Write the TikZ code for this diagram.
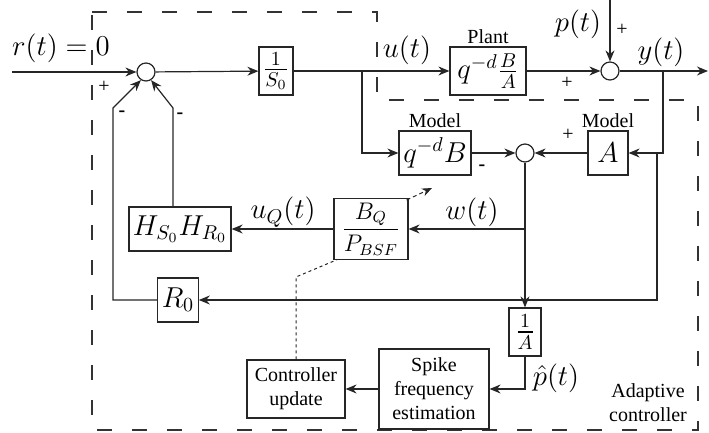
\documentclass[tikz,border=0pt]{standalone}
\usepackage[no-math]{fontspec}
\setmainfont{Liberation Serif}
\usepackage{amsmath}
\usetikzlibrary{arrows.meta,positioning,calc}
\tikzset{
  blk/.style={draw=black!85, line width=0.6pt, inner sep=2pt, font=\Large,
    minimum height=22pt, align=center},
  txtblk/.style={blk, font=\normalsize, inner sep=2pt},
  sumnode/.style={draw=black!85, line width=0.6pt, circle, minimum size=9pt, inner sep=0pt},
  sig/.style={-{Stealth[length=5.5pt, width=4.5pt, inset=1.8pt]}, black!85, line width=0.6pt},
  wire/.style={black!85, line width=0.6pt},
  zone/.style={line width=0.8pt, black!80, dash pattern=on 7.5pt off 10pt},
  tune/.style={-{Stealth[length=5pt, width=4pt, inset=1.6pt]}, black!85, line width=0.5pt,
    dash pattern=on 2pt off 1.5pt},
  link/.style={black!85, line width=0.5pt, dash pattern=on 1.5pt off 1.5pt},
  mlbl/.style={font=\Large, inner sep=1pt},
  tag/.style={font=\normalsize, inner sep=1pt},
  sgn/.style={font=\normalsize, inner sep=0pt}
}
\begin{document}
\begin{tikzpicture}[x=0.5pt, y=-0.5pt]
  \useasboundingbox (0,0) rectangle (709,433);
  % adaptive controller border
  \draw[zone] (92,12) -- (377,12) -- (377,100) -- (698,100) -- (698,430) -- (92,430) -- cycle;

  % main loop
  \node[sumnode] (sumA) at (146,72) {};
  \node[blk, minimum width=16pt, minimum height=24pt] (invS) at (276,71) {$\frac{1}{S_0}$};
  \node[blk, minimum width=38pt, minimum height=24pt] (plant) at (488,71) {$q^{-d}\frac{B}{A}$};
  \node[tag, above=0pt of plant] (plantlbl) {Plant};
  \node[sumnode] (sumY) at (610,71) {};

  % model and estimation
  \node[blk, minimum width=36pt] (modB) at (435,153) {$q^{-d}B$};
  \node[tag, above=0pt of modB] (modBlbl) {Model};
  \node[sumnode] (sumE) at (525,153) {};
  \node[blk, minimum width=20pt] (modA) at (608,153) {$A$};
  \node[tag, above=0pt of modA] (modAlbl) {Model};
  \node[blk, minimum width=37pt, minimum height=24pt, font=\large] (bq) at (371,229) {$\dfrac{B_Q}{P_{BSF}}$};
  \node[blk, minimum width=51pt] (hh) at (180,229) {$H_{S_0}H_{R_0}$};
  \node[blk, minimum width=20pt] (rz) at (178,300) {$R_0$};
  \node[blk, minimum width=16pt, minimum height=24pt] (invA) at (525,332) {$\frac{1}{A}$};
  \node[txtblk, minimum width=55pt, minimum height=40pt] (spike) at (434,389) {Spike\\frequency\\estimation};
  \node[txtblk, minimum width=49pt, minimum height=29pt] (upd) at (296,389) {Controller\\update};

  % branch and end points
  \coordinate (rin) at (12,72);
  \coordinate (yout) at (708,71);
  \coordinate (ptop) at (610,0);
  \coordinate (ubr) at (362,71);
  \coordinate (ybr) at (663,71);
  \coordinate (rbr) at (657,153);
  \coordinate (wbr) at (525,229);
  \coordinate (hk) at (173,108);
  \coordinate (rk) at (113,108);
  \coordinate (dk) at (296,277);
  \coordinate (tunetip) at (432,188);

  % signals
  \draw[sig] (rin) -- (sumA);
  \draw[sig] (sumA) -- (invS);
  \draw[sig] (invS) -- (plant);
  \draw[sig] (plant) -- (sumY);
  \draw[sig] (ptop) -- (sumY);
  \draw[sig] (sumY) -- (yout);
  \draw[sig] (ubr) |- (modB);
  \draw[sig] (ybr) |- (modA);
  \draw[sig] (modA) -- (sumE);
  \draw[sig] (modB) -- (sumE);
  \draw[sig] (sumE) -- (invA);
  \draw[sig] (wbr) -- (bq);
  \draw[sig] (rbr) |- (rz);
  \draw[sig] (bq) -- (hh);
  \draw[sig] (hh.north -| hk) -- (hk) -- (sumA.-58);
  \draw[sig] (rz) -| (rk) -- (sumA.-122);
  \draw[sig] (invA) |- (spike);
  \draw[sig] (spike) -- (upd);
  \draw[link] (upd) -- (dk) -- ($(bq.south west)+(3,0)$);
  \draw[tune] ($(bq.north east)+(-2,2)$) -- (tunetip);

  % signal labels
  \node[mlbl] (rlbl) at (61,48) {$r(t) = 0$};
  \node[mlbl] (ulbl) at (407,50) {$u(t)$};
  \node[mlbl] (plbl) at (578,24) {$p(t)$};
  \node[mlbl] (ylbl) at (661,52) {$y(t)$};
  \node[mlbl] (uqlbl) at (283,212) {$u_Q(t)$};
  \node[mlbl] (wlbl) at (472,212) {$w(t)$};
  \node[mlbl, inner sep=0pt] (phlbl) at (556,378) {$\hat{p}(t)$};
  \node[tag, align=center] (adlbl) at (648,403) {Adaptive\\controller};

  % signs
  \node[sgn] (s1) at (104,87) {+};
  \node[sgn] (s2) at (622,30) {+};
  \node[sgn] (s3) at (567,83) {+};
  \node[sgn] (s4) at (568,135) {+};
  \node[sgn] (s5) at (122,114) {\textbf{-}};
  \node[sgn] (s6) at (180,116) {\textbf{-}};
  \node[sgn] (s7) at (482,168) {\textbf{-}};
\end{tikzpicture}
\end{document}
